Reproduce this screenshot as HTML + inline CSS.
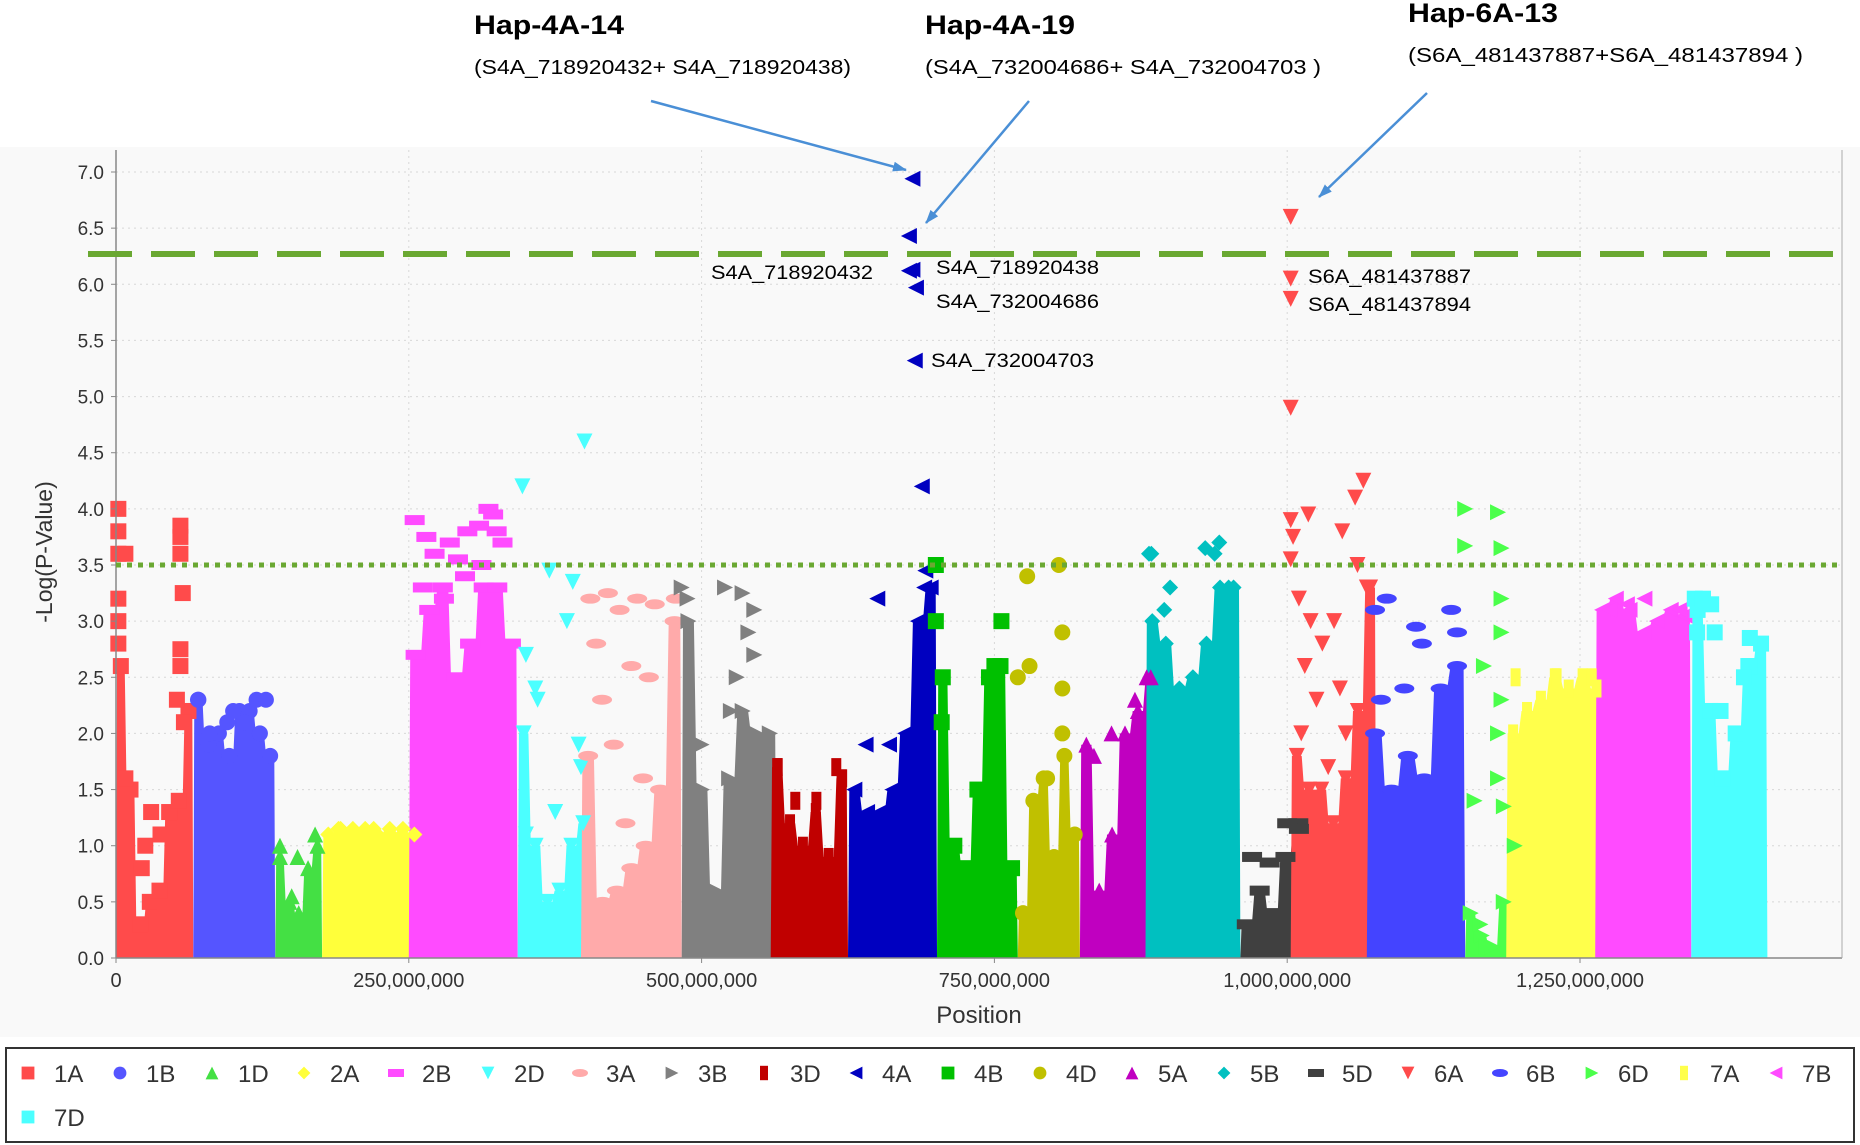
<!DOCTYPE html>
<html><head><meta charset="utf-8"><style>
html,body{margin:0;padding:0;background:#fff;}
svg{display:block;font-family:"Liberation Sans",sans-serif;}
</style></head><body>
<svg id="chart" width="1860" height="1145" viewBox="0 0 1860 1145" xmlns="http://www.w3.org/2000/svg">
<rect x="0" y="0" width="1860" height="1145" fill="#fff"/>
<rect x="0" y="147" width="1860" height="890" fill="#f9f9f9"/>
<g id="grid"></g>
<g id="dense"></g>
<g id="marks"></g>
<g id="axes"></g>
<g id="annot"></g>
<g id="legend"></g>
</svg>
<script>
// ---- data ----
const chromNames = ["1A","1B","1D","2A","2B","2D","3A","3B","3D","4A","4B","4D","5A","5B","5D","6A","6B","6D","7A","7B","7D"];
const chromStart = [0,66,136,176,250,343,397,483,559,625,701,770,823,879,960,1003,1068,1152,1187,1263,1345];
const chromEnd   = [66,136,176,260,343,404,483,564,625,701,770,823,889,960,1015,1076,1152,1199,1270,1345,1410];
const profiles = [
 [2.6,1.5,0.3,0.5,0.6,1.3,1.4,2.2],
 [2.3,1.9,2.0,1.8,2.2,2.2,2.0,1.8],
 [0.9,0.5,0.4,0.8,1.0],
 [1.1,1.15,1.15,1.15,1.1,1.15,1.1,1.1],
 [2.7,3.1,3.3,2.5,2.8,3.3,3.3,2.8],
 [2.0,1.0,0.5,0.6,1.0,1.2],
 [1.8,0.5,0.6,0.8,1.0,1.5,3.0],
 [3.0,1.5,0.6,1.6,2.2,2.0,2.0],
 [1.7,1.2,1.0,1.3,0.9,1.6],
 [1.5,1.3,1.3,1.5,2.0,3.0,3.3],
 [2.5,1.0,0.8,1.5,2.5,2.6,0.8],
 [0.4,1.4,1.6,0.9,1.8,1.1],
 [1.9,0.6,1.1,2.0,2.2,2.5],
 [3.0,2.8,2.4,2.5,2.8,3.3,3.3],
 [0.3,0.6,0.4,0.9,1.2],
 [1.8,1.5,1.5,1.2,1.6,2.2,3.3],
 [2.0,1.5,1.8,1.6,2.4,2.6],
 [0.4,0.2,0.1,0.5,1.0],
 [2.0,2.2,2.3,2.5,2.4,2.5,2.4],
 [3.1,3.2,3.1,2.9,3.0,3.1,3.05],
 [3.1,2.2,1.6,2.0,2.6,2.8]
];
const snpPos = [
 [2,2,2,8,2,2,2,55,55,55,57,55,55,52,58,30,25,22,38,8],
 [70,95,120,128,100,80,110],
 [140,155,170,150],
 [190,220,245],
 [255,265,272,285,292,300,310,318,322,325,330,312,262,280,298],
 [347,370,390,400,385,350,358,360,395,397,375,350],
 [405,420,430,445,460,478,410,440,415,455,425,450,435],
 [483,488,520,535,545,540,530,500,545,525],
 [565,580,598,615,620],
 [680,677,680,677,683,682,688,691,690,650,640,660,690],
 [700,700,756,750,705],
 [778,805,808,780,770,808,808,795],
 [835,870,850,880],
 [882,884,900,930,942,938,950,895],
 [970,985,1000,1010],
 [1003,1003,1003,1003,1003,1005,1003,1018,1065,1058,1047,1060,1068,1010,1020,1030,1040,1015,1025,1045,1050,1012,1035],
 [1075,1085,1110,1140,1145,1100,1115,1080],
 [1152,1180,1152,1183,1183,1183,1168,1183,1180,1180,1160,1185,1165,1170],
 [1195,1230,1260],
 [1275,1290,1305,1335],
 [1348,1355,1362,1350,1365,1395,1395,1390,1370]
];
const snpVal = [
 [4.0,3.8,3.6,3.6,3.2,3.0,2.8,3.85,3.75,3.6,3.25,2.75,2.6,2.3,2.1,1.3,1.0,0.8,1.1,1.6],
 [2.3,2.1,2.3,2.3,2.2,2.0,2.1],
 [1.0,0.9,1.1,0.55],
 [1.15,1.15,1.15],
 [3.9,3.75,3.6,3.7,3.55,3.8,3.85,4.0,3.95,3.8,3.7,3.5,3.3,3.2,3.4],
 [4.2,3.45,3.35,4.6,3.0,2.7,2.4,2.3,1.9,1.7,1.3,1.1],
 [3.2,3.25,3.1,3.2,3.15,3.2,2.8,2.6,2.3,2.5,1.9,1.6,1.2],
 [3.3,3.2,3.3,3.25,3.1,2.9,2.5,1.9,2.7,2.2],
 [1.7,1.4,1.4,1.7,1.6],
 [6.94,6.43,6.13,6.12,5.97,5.32,4.2,3.45,3.3,3.2,1.9,1.9,3.0],
 [3.5,3.0,3.0,2.6,2.1],
 [3.4,3.5,2.9,2.6,2.5,2.4,2.0,1.6],
 [1.8,2.3,2.0,2.5],
 [3.6,3.6,3.3,3.65,3.7,3.6,3.3,3.1],
 [0.9,0.85,1.2,1.15],
 [6.6,6.05,5.87,4.9,3.9,3.75,3.55,3.95,4.25,4.1,3.8,3.5,3.3,3.2,3.0,2.8,3.0,2.6,2.3,2.4,2.0,2.0,1.7],
 [3.1,3.2,2.95,3.1,2.9,2.4,2.8,2.3],
 [4.0,3.97,3.67,3.65,3.2,2.9,2.6,2.3,2.0,1.6,1.4,1.35,0.3,0.1],
 [2.5,2.5,2.5],
 [3.1,3.15,3.2,3.1],
 [3.2,3.2,3.15,2.9,2.9,2.85,2.6,2.5,2.2]
];
const yTicks = ["0.0","0.5","1.0","1.5","2.0","2.5","3.0","3.5","4.0","4.5","5.0","5.5","6.0","6.5","7.0"];
const xTicks = [0,250,500,750,1000,1250];
const xTickLabels = ["0","250,000,000","500,000,000","750,000,000","1,000,000,000","1,250,000,000"];
const thresholdHigh = 6.27;
const thresholdLow = 3.5;

// ---- styles ----
const colors = ["#ff4b4b","#5555ff","#44e044","#ffff3a","#ff4bff","#4bffff","#ffaaaa","#808080","#c00000","#0000c0","#00c000","#c0c000","#c000c0","#00c0c0","#404040","#ff4b4b","#4444ff","#4bff4b","#ffff4b","#ff4bff","#4bffff"];
const shapes = ["sq","ci","tu","di","rw","td","el","tr","rt","tl","sq","ci","tu","di","rw","td","el","tr","rt","tl","sq"];

const NS="http://www.w3.org/2000/svg";
const X0=116, PX_PER_MB=(1580-116)/1250;
const Y0=958, PX_PER_UNIT=(958-172)/7;
function xs(mb){return X0+mb*PX_PER_MB;}
function ys(v){return Y0-v*PX_PER_UNIT;}
function mk(tag,attrs,parent){const e=document.createElementNS(NS,tag);for(const k in attrs)e.setAttribute(k,attrs[k]);parent.appendChild(e);return e;}

function shape(kind,cx,cy,col,parent){
  const s=8;let e;
  if(kind==="sq") e=mk("rect",{x:cx-s,y:cy-s,width:2*s,height:2*s,fill:col},parent);
  else if(kind==="ci") e=mk("circle",{cx:cx,cy:cy,r:s,fill:col},parent);
  else if(kind==="el") e=mk("ellipse",{cx:cx,cy:cy,rx:s+2,ry:s-3,fill:col},parent);
  else if(kind==="rw") e=mk("rect",{x:cx-s-2,y:cy-s+3,width:2*s+4,height:2*s-6,fill:col},parent);
  else if(kind==="rt") e=mk("rect",{x:cx-s+3,y:cy-s-1,width:2*s-6,height:2*s+2,fill:col},parent);
  else {
    let p;
    if(kind==="tu") p=[[cx,cy-s],[cx+s,cy+s],[cx-s,cy+s]];
    else if(kind==="td") p=[[cx-s,cy-s],[cx+s,cy-s],[cx,cy+s]];
    else if(kind==="tr") p=[[cx-s,cy-s],[cx+s,cy],[cx-s,cy+s]];
    else if(kind==="tl") p=[[cx+s,cy-s],[cx-s,cy],[cx+s,cy+s]];
    else p=[[cx,cy-s],[cx+s,cy],[cx,cy+s],[cx-s,cy]];
    e=mk("polygon",{points:p.map(q=>q.join(",")).join(" "),fill:col},parent);
  }
  return e;
}

// grid
const grid=document.getElementById("grid");
yTicks.forEach((t,i)=>{const v=parseFloat(t);if(v===0)return;
  const l=mk("line",{x1:X0,x2:1842,y1:ys(v),y2:ys(v),stroke:"#d8d8d8","stroke-width":1,"stroke-dasharray":"2,4"},grid);
  
  
});
xTicks.forEach(t=>{if(t===0)return;
  const l=mk("line",{x1:xs(t),x2:xs(t),y1:150,y2:Y0,stroke:"#d8d8d8","stroke-width":1,"stroke-dasharray":"2,4"},grid);
  
  
});

// dense regions + points
const dense=document.getElementById("dense"), marks=document.getElementById("marks");
chromNames.forEach((name,c)=>{
  const pr=profiles[c], a=chromStart[c], b=chromEnd[c], n=pr.length;
  const pts=[[xs(a),Y0]];
  const w=(b-a)/n;
  pr.forEach((v,i)=>{
    const l=a+w*i, r=a+w*(i+1);
    pts.push([xs(l+w*0.1),ys(v)]);
    pts.push([xs(r-w*0.1),ys(v)]);
  });
  pts.push([xs(b),Y0]);
  const poly=mk("polygon",{points:pts.map(q=>q.map(z=>z.toFixed(1)).join(",")).join(" "),fill:colors[c]},dense);
  
  
  const g=mk("g",{},marks);
  
  
  pr.forEach((v,i)=>{const m=a+(b-a)*(i+0.5)/n;
    const e=shape(shapes[c],xs(m),ys(v),colors[c],g);
    
    
  });
  snpPos[c].forEach((p,i)=>{
    const e=shape(shapes[c],xs(p),ys(snpVal[c][i]),colors[c],g);
    
    
  });
});

// axes
const axes=document.getElementById("axes");
mk("line",{x1:X0,x2:X0,y1:150,y2:Y0,stroke:"#888","stroke-width":1.5},axes);
mk("line",{x1:X0,x2:1842,y1:Y0,y2:Y0,stroke:"#888","stroke-width":1.5},axes);
mk("line",{x1:1842,x2:1842,y1:150,y2:Y0,stroke:"#aaa","stroke-width":1},axes);
yTicks.forEach(t=>{const v=parseFloat(t);
  mk("line",{x1:X0-5,x2:X0,y1:ys(v),y2:ys(v),stroke:"#888"},axes);
  const tx=mk("text",{x:X0-12,y:ys(v)+7,"text-anchor":"end","font-size":19,fill:"#333"},axes);
  tx.textContent=t;
  
  
});
xTicks.forEach((t,i)=>{
  mk("line",{x1:xs(t),x2:xs(t),y1:Y0,y2:Y0+5,stroke:"#888"},axes);
  const tx=mk("text",{x:xs(t),y:Y0+29,"text-anchor":"middle","font-size":20,fill:"#333"},axes);
  tx.textContent=xTickLabels[i];
  
  
});
const hl=mk("line",{x1:X0-28,x2:1842,y1:ys(thresholdHigh),y2:ys(thresholdHigh),stroke:"#6aa832","stroke-width":6,"stroke-dasharray":"44,19"},axes);


const ll=mk("line",{x1:X0,x2:1842,y1:ys(thresholdLow),y2:ys(thresholdLow),stroke:"#6aa832","stroke-width":5,"stroke-dasharray":"5,6"},axes);


</script>
<script>
const A=document.getElementById("annot");
function T(txt,x,y,size,opts,name){const e=document.createElementNS(NS,"text");e.setAttribute("x",x);e.setAttribute("y",y);e.setAttribute("font-size",size);for(const k in (opts||{}))e.setAttribute(k,opts[k]);e.textContent=txt;


A.appendChild(e);return e;}
const yt=T("-Log(P-Value)",0,0,23,{transform:"translate(52,552) rotate(-90)","text-anchor":"middle",fill:"#333"},"y-axis-title");
T("Position",979,1023,24,{"text-anchor":"middle",fill:"#333"},"x-axis-title");
T("Hap-4A-14",474,34,27,{"font-weight":"bold",textLength:150,lengthAdjust:"spacingAndGlyphs"},"hap-4a-14-title");
T("(S4A_718920432+ S4A_718920438)",474,74,20,{textLength:377,lengthAdjust:"spacingAndGlyphs"},"hap-4a-14-snps");
T("Hap-4A-19",925,34,27,{"font-weight":"bold",textLength:150,lengthAdjust:"spacingAndGlyphs"},"hap-4a-19-title");
T("(S4A_732004686+ S4A_732004703 )",925,74,20,{textLength:396,lengthAdjust:"spacingAndGlyphs"},"hap-4a-19-snps");
T("Hap-6A-13",1408,22,27,{"font-weight":"bold",textLength:150,lengthAdjust:"spacingAndGlyphs"},"hap-6a-13-title");
T("(S6A_481437887+S6A_481437894 )",1408,62,20,{textLength:395,lengthAdjust:"spacingAndGlyphs"},"hap-6a-13-snps");
T("S4A_718920432",873,279,19,{"text-anchor":"end",textLength:162,lengthAdjust:"spacingAndGlyphs"},"snp-label");
T("S4A_718920438",936,274,19,{textLength:163,lengthAdjust:"spacingAndGlyphs"},"snp-label");
T("S4A_732004686",936,308,19,{textLength:163,lengthAdjust:"spacingAndGlyphs"},"snp-label");
T("S4A_732004703",931,367,19,{textLength:163,lengthAdjust:"spacingAndGlyphs"},"snp-label");
T("S6A_481437887",1308,283,19,{textLength:163,lengthAdjust:"spacingAndGlyphs"},"snp-label");
T("S6A_481437894",1308,311,19,{textLength:163,lengthAdjust:"spacingAndGlyphs"},"snp-label");
// arrows
const defs=document.createElementNS(NS,"defs");defs.innerHTML='<marker id="ah" markerWidth="14" markerHeight="10" refX="13" refY="5" orient="auto" markerUnits="userSpaceOnUse"><path d="M0,0 L14,5 L0,10 Z" fill="#4a8fd6"/></marker>';A.appendChild(defs);
[[651,101,906,170],[1029,101,926,223],[1427,93,1319,197]].forEach(a=>{
  const l=document.createElementNS(NS,"line");
  l.setAttribute("x1",a[0]);l.setAttribute("y1",a[1]);l.setAttribute("x2",a[2]);l.setAttribute("y2",a[3]);
  l.setAttribute("stroke","#4a8fd6");l.setAttribute("stroke-width","2.5");l.setAttribute("marker-end","url(#ah)");
  
  
  A.appendChild(l);
});
// legend
const L=document.getElementById("legend");
const box=document.createElementNS(NS,"rect");
box.setAttribute("x",6);box.setAttribute("y",1048);box.setAttribute("width",1848);box.setAttribute("height",94);
box.setAttribute("fill","#fff");box.setAttribute("stroke","#333");box.setAttribute("stroke-width","2");


L.appendChild(box);
chromNames.forEach((name,c)=>{
  const row=c<20?0:1, col=c<20?c:c-20;
  const x=28+col*92, y=row===0?1073:1117;
  const g=document.createElementNS(NS,"g");
  
  
  L.appendChild(g);
  const s=shape(shapes[c],x,y,colors[c],g);
  s.setAttribute("transform",`translate(${x},${y}) scale(0.8) translate(${-x},${-y})`);
  const t=document.createElementNS(NS,"text");
  t.setAttribute("x",x+26);t.setAttribute("y",y+9);t.setAttribute("font-size",24);t.setAttribute("fill","#333");
  t.textContent=name;
  g.appendChild(t);
});
</script>
</body></html>
